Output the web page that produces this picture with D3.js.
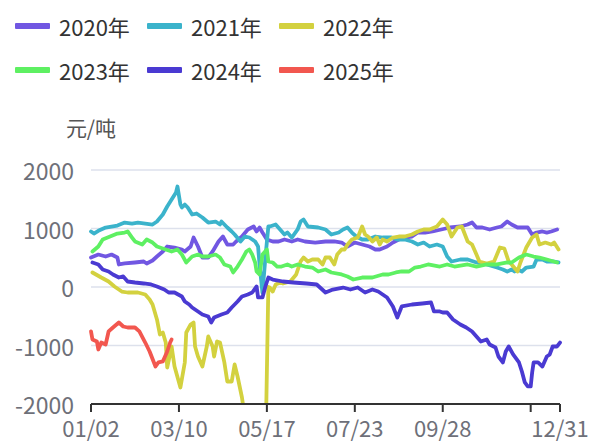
<!DOCTYPE html>
<html lang="zh">
<head>
<meta charset="UTF-8" />
<title>价差季节性</title>
<style>
  * { margin:0; padding:0; box-sizing:border-box }
  body { background:#fff; font-family:"Noto Sans CJK SC","Noto Sans",sans-serif; }
  svg { display:block; }
</style>
</head>
<body>
<div id="chart"></div>
<script src="https://d3js.org/d3.v7.min.js"></script>
<script>
// ── data (x = trading-day index 0..320, y = 元/吨) ──
const years  = ["2020年","2021年","2022年","2023年","2024年","2025年"];
const colors = ["#7157E2","#3BB3CB","#D3D13F","#5EF062","#4A3AD2","#F2574F"];

const xLabels   = ["01/02","03/10","05/17","07/23","09/28","12/31"];
const xLabelIdx = [0, 60, 120, 180, 240, 320];
const xTickIdx  = [0, 60, 120, 180, 240, 300, 320];
const yTicks    = [-2000, -1000, 0, 1000, 2000];

const s2020 = [[0,504],[5,555],[10,521],[14,555],[18,504],[19,385],[23,402],[30,419],[36,436],[38,402],[42,453],
  [45,521],[49,607],[52,692],[57,675],[62,641],[64,607],[68,692],[70,846],[73,692],[76,504],[80,504],[83,607],
  [87,778],[90,863],[93,726],[97,726],[99,778],[103,863],[107,983],[111,1034],[113,949],[115,1017],[117,931],
  [120,812],[124,778],[128,778],[132,812],[137,778],[141,812],[146,778],[153,760],[160,778],[166,778],[171,760],
  [175,692],[180,760],[185,726],[190,692],[194,641],[197,641],[202,692],[206,760],[210,812],[214,846],[219,863],
  [223,931],[228,931],[233,949],[245,1017],[252,1034],[257,1068],[260,1102],[263,1017],[267,1017],[272,983],
  [277,1017],[280,1034],[284,1119],[287,1068],[291,1017],[295,1017],[298,1017],[301,897],[304,931],[308,949],
  [311,931],[314,949],[318,983]];

const s2021 = [[0,949],[2,914],[5,960],[10,1017],[14,1034],[18,1051],[23,1102],[28,1085],[32,1102],[37,1085],
  [42,1068],[45,1119],[49,1239],[52,1376],[55,1496],[58,1615],[59,1718],[61,1410],[62,1359],[64,1410],[66,1359],
  [69,1239],[72,1256],[76,1188],[80,1102],[85,1119],[88,1068],[89,1119],[93,1017],[96,949],[98,897],[102,778],
  [105,863],[108,846],[112,778],[114,692],[115,385],[117,-100],[119,504],[121,1034],[122,1034],[126,1068],
  [129,983],[132,897],[134,931],[137,846],[141,983],[143,1119],[145,1153],[148,1034],[155,1017],[160,983],
  [164,897],[169,931],[172,983],[175,1017],[178,931],[181,863],[185,812],[189,812],[194,863],[199,846],[205,846],
  [209,812],[214,812],[219,778],[223,726],[227,760],[231,692],[236,726],[240,692],[243,521],[246,436],[252,470],
  [257,470],[263,419],[270,385],[277,333],[281,299],[284,265],[287,299],[289,265],[291,299],[294,265],[297,333],
  [302,350],[304,470],[308,470],[311,436],[315,436],[319,419]];

const s2022 = [[1,248],[7,162],[12,94],[16,9],[21,-77],[25,-94],[32,-94],[37,-128],[40,-214],[42,-299],[45,-555],
  [47,-812],[49,-778],[51,-948],[52,-1376],[55,-1017],[57,-1359],[61,-1718],[64,-1290],[65,-778],[68,-641],
  [70,-607],[71,-1017],[73,-1188],[76,-1359],[79,-1017],[80,-846],[83,-1017],[84,-1188],[86,-931],[88,-948],
  [91,-1290],[93,-1615],[96,-1615],[98,-1324],[100,-1530],[103,-1889],[106,-2400],[110,-2800],[119,-2900],
  [121,0],[122,-9],[124,-77],[126,43],[129,77],[131,60],[136,94],[140,214],[143,436],[145,504],[148,436],
  [151,470],[155,470],[158,385],[160,504],[163,504],[166,385],[168,555],[171,641],[173,641],[175,726],[178,812],
  [182,846],[185,1034],[187,897],[189,863],[192,778],[195,846],[197,726],[199,812],[202,778],[206,846],[210,863],
  [214,863],[219,897],[223,949],[227,983],[231,983],[236,1034],[240,1153],[243,1068],[246,863],[250,1017],
  [253,1034],[257,778],[260,726],[263,555],[265,436],[270,401],[275,436],[277,555],[279,675],[282,658],[285,436],
  [287,385],[291,265],[293,419],[297,675],[301,846],[304,897],[306,726],[310,760],[314,726],[316,760],[319,641]];

const s2023 = [[1,607],[5,692],[8,812],[13,863],[18,914],[23,931],[25,949],[28,846],[30,778],[35,726],[38,812],
  [42,760],[45,692],[51,641],[55,607],[59,641],[62,555],[65,419],[69,521],[73,555],[76,521],[80,521],[85,555],
  [88,504],[91,385],[95,350],[97,248],[100,350],[103,470],[106,607],[108,641],[110,555],[112,419],[113,265],
  [115,214],[116,385],[117,555],[120,641],[121,436],[124,419],[127,350],[130,350],[134,385],[137,350],[141,385],
  [146,350],[151,333],[155,265],[160,299],[164,248],[171,214],[175,180],[179,128],[185,162],[192,162],[199,214],
  [203,214],[208,248],[212,265],[217,265],[221,333],[225,350],[230,385],[238,350],[243,385],[248,350],[257,385],
  [263,350],[270,385],[277,385],[284,419],[287,419],[292,504],[297,555],[302,521],[306,504],[311,470],[318,419]];

const s2024 = [[1,419],[5,385],[8,299],[12,265],[15,214],[19,162],[22,180],[25,94],[30,77],[36,60],[41,43],
  [45,9],[50,-43],[53,-94],[57,-94],[62,-162],[64,-248],[67,-299],[69,-350],[73,-418],[76,-470],[80,-504],
  [82,-607],[84,-521],[89,-470],[93,-436],[96,-350],[100,-248],[103,-162],[107,-128],[110,-94],[113,9],
  [114,-179],[117,-179],[119,9],[121,162],[124,128],[131,94],[138,77],[147,60],[154,43],[160,-94],[165,-43],
  [172,-9],[177,-43],[182,-9],[187,-94],[192,-43],[196,-77],[202,-179],[206,-333],[209,-521],[212,-333],
  [219,-299],[226,-282],[232,-265],[234,-418],[238,-418],[240,-436],[243,-436],[247,-555],[252,-641],[256,-692],
  [260,-760],[263,-846],[266,-931],[270,-897],[272,-983],[276,-1034],[278,-1188],[281,-1290],[283,-1102],
  [285,-1017],[288,-1153],[292,-1290],[294,-1444],[296,-1632],[298,-1700],[300,-1700],[301,-1461],[302,-1290],
  [305,-1290],[308,-1359],[311,-1188],[313,-1153],[315,-1017],[318,-1017],[320,-949]];

const s2025 = [[0,-760],[1,-897],[4,-931],[5,-1068],[7,-949],[10,-983],[12,-760],[15,-692],[19,-607],[22,-675],
  [25,-692],[30,-692],[33,-760],[37,-949],[40,-1102],[44,-1359],[46,-1290],[49,-1273],[52,-1102],[54,-949],
  [55,-897]];

const series = [s2020, s2021, s2022, s2023, s2024, s2025];

// ── layout ──
const W = 597, H = 442;
const plot = { left: 91, right: 560, top: 170, bottom: 404 };

const svg = d3.select("#chart").append("svg")
  .attr("width", W).attr("height", H);

const x = d3.scaleLinear().domain([0, 320]).range([plot.left, plot.right]);
const y = d3.scaleLinear().domain([-2000, 2000]).range([plot.bottom, plot.top]);

// grid lines
svg.append("g").selectAll("line")
  .data(yTicks.filter(d => d !== -2000))
  .join("line")
  .attr("x1", plot.left).attr("x2", plot.right)
  .attr("y1", d => y(d)).attr("y2", d => y(d))
  .attr("stroke", "#DDE1EC").attr("stroke-width", 1.5);

// y labels
svg.append("g").selectAll("text")
  .data(yTicks)
  .join("text")
  .attr("x", 74).attr("y", d => y(d))
  .attr("text-anchor", "end").attr("dominant-baseline", "central")
  .attr("fill", "#6E7079").attr("font-size", 23)
  .text(d => d);

// y axis name
svg.append("text")
  .attr("x", plot.left).attr("y", 127)
  .attr("text-anchor", "middle").attr("dominant-baseline", "central")
  .attr("fill", "#555").attr("font-size", 21)
  .text("元/吨");

// series lines, clipped to plot area
svg.append("clipPath").attr("id", "clip")
  .append("rect")
  .attr("x", plot.left - 4).attr("y", plot.top - 30)
  .attr("width", plot.right - plot.left + 8).attr("height", plot.bottom - plot.top + 30);

const line = d3.line().x(d => x(d[0])).y(d => y(d[1]));

svg.append("g").attr("clip-path", "url(#clip)")
  .selectAll("path")
  .data(series)
  .join("path")
  .attr("d", line)
  .attr("fill", "none")
  .attr("stroke", (d, i) => colors[i])
  .attr("stroke-width", 3.8)
  .attr("stroke-linejoin", "round")
  .attr("stroke-linecap", "round");

// x axis
const xa = svg.append("g");
xa.append("line")
  .attr("x1", plot.left).attr("x2", plot.right)
  .attr("y1", plot.bottom).attr("y2", plot.bottom)
  .attr("stroke", "#333").attr("stroke-width", 2);
xa.selectAll(".tick")
  .data(xTickIdx)
  .join("line")
  .attr("x1", d => x(d)).attr("x2", d => x(d))
  .attr("y1", plot.bottom).attr("y2", plot.bottom + 8)
  .attr("stroke", "#333").attr("stroke-width", 2);
xa.selectAll("text")
  .data(xLabels)
  .join("text")
  .attr("x", (d, i) => x(xLabelIdx[i])).attr("y", 427)
  .attr("text-anchor", "middle").attr("dominant-baseline", "central")
  .attr("fill", "#6E7079").attr("font-size", 22)
  .text(d => d);

// legend
const lg = svg.append("g").selectAll("g")
  .data(years)
  .join("g")
  .attr("transform", (d, i) => `translate(${15 + (i % 3) * 132},${i < 3 ? 26 : 70})`);
lg.append("rect")
  .attr("x", 0).attr("y", -3).attr("width", 35).attr("height", 6).attr("rx", 1)
  .attr("fill", (d, i) => colors[i]);
lg.append("text")
  .attr("x", 44).attr("y", 0)
  .attr("dominant-baseline", "central")
  .attr("fill", "#333").attr("font-size", 22)
  .text(d => d);
</script>
</body>
</html>
